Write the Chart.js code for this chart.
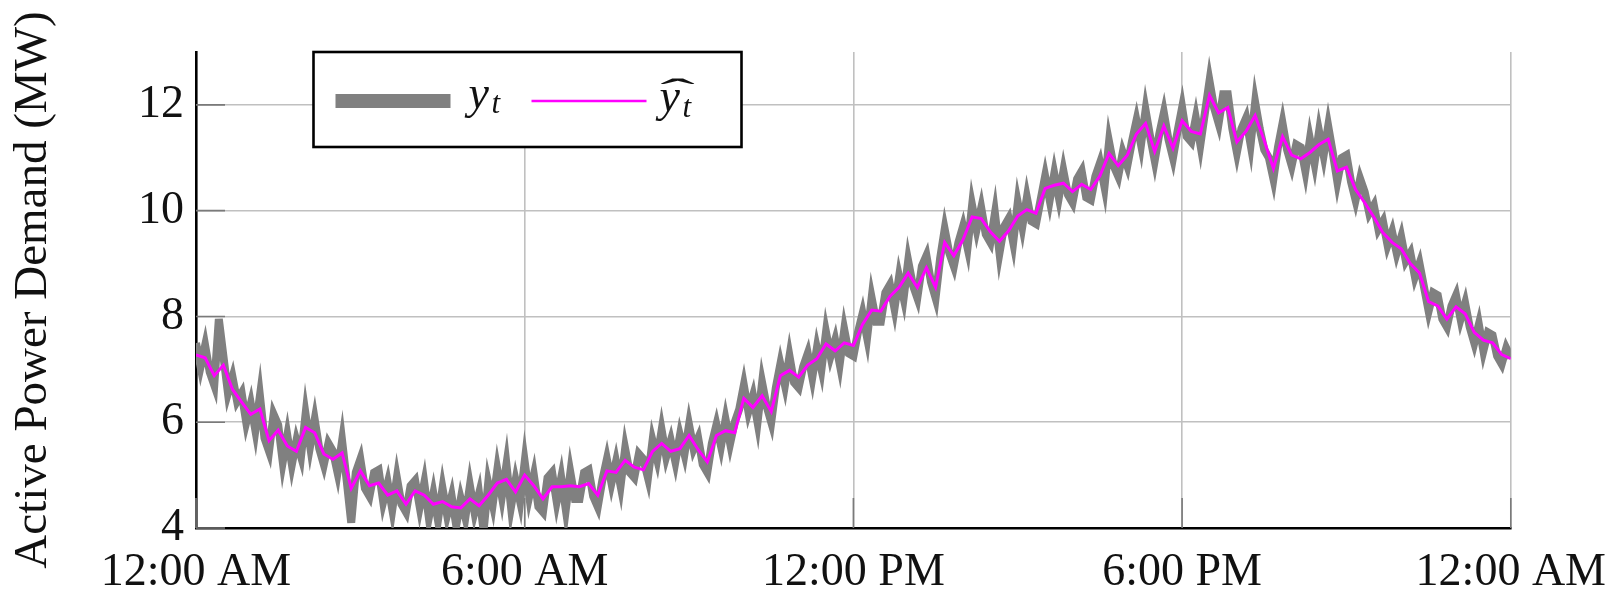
<!DOCTYPE html>
<html>
<head>
<meta charset="utf-8">
<title>Active Power Demand</title>
<script src="https://cdn.jsdelivr.net/npm/chart.js@4.4.1/dist/chart.umd.min.js"></script>
<style>
  html, body { margin: 0; padding: 0; background: #fff; }
  #wrap { width: 1623px; height: 593px; }
</style>
</head>
<body>
<div id="wrap"><canvas id="demand" width="1623" height="593"></canvas></div>
<script>
// sampling steps in minutes, 00:00 -> 24:00 (one row per hour below)
const measuredStep = 5;
const forecastStep = 10;

// measured demand y_t (MW), 5-minute readings
const measured = [
  7.50, 7.05, 7.45, 6.95, 6.70, 7.95, 7.25, 6.55, 6.85, 6.40, 6.55, 6.00,
  6.35, 5.85, 6.50, 5.70, 5.45, 6.15, 5.95, 5.25, 5.75, 5.20, 5.65, 5.35,
  6.15, 5.55, 6.05, 5.50, 5.20, 5.60, 5.45, 5.05, 5.65, 4.90, 4.10, 5.05,
  5.30, 4.75, 4.60, 5.05, 5.10, 4.50, 4.85, 4.35, 4.95, 4.45, 4.30, 4.80,
  4.90, 4.40, 4.85, 4.20, 4.65, 4.15, 4.75, 4.25, 4.60, 4.05, 4.55, 4.20,
  4.80, 4.30, 4.65, 3.95, 4.85, 4.45, 5.10, 4.60, 5.20, 4.40, 4.90, 4.50,
  5.25, 4.60, 5.00, 4.40, 4.30, 4.95, 5.05, 4.50, 4.95, 4.35, 5.05, 4.55,
  4.55, 5.05, 5.10, 4.60, 4.40, 4.90, 5.30, 4.85, 5.25, 4.80, 5.50, 5.05,
  4.95, 5.40, 5.30, 4.95, 5.65, 5.30, 5.85, 5.35, 5.65, 5.25, 5.75, 5.40,
  5.95, 5.50, 5.70, 5.20, 5.05, 5.60, 5.95, 5.55, 6.05, 5.60, 6.00, 6.25,
  6.70, 6.20, 6.50, 6.00, 6.75, 6.30, 6.00, 6.65, 7.10, 6.70, 7.25, 6.75,
  6.65, 7.05, 7.30, 6.85, 7.40, 7.00, 7.70, 7.25, 7.55, 7.10, 7.75, 7.30,
  7.25, 7.70, 8.05, 7.60, 8.35, 7.90, 7.90, 8.45, 8.60, 8.15, 8.75, 8.35,
  9.05, 8.60, 8.35, 8.95, 9.15, 8.65, 8.35, 9.10, 9.65, 9.20, 8.95, 9.40,
  9.70, 9.30, 10.10, 9.65, 10.05, 9.55, 9.40, 9.95, 9.20, 9.70, 9.85, 9.40,
  10.15, 9.70, 10.25, 9.80, 9.75, 10.20, 10.65, 10.20, 10.70, 10.25, 10.75, 10.30,
  10.15, 10.60, 10.75, 10.25, 10.20, 10.65, 10.90, 10.45, 11.30, 10.85, 10.65, 11.10,
  10.85, 11.30, 11.70, 11.25, 11.90, 11.40, 10.95, 11.45, 11.85, 11.35, 11.00, 11.50,
  11.95, 11.40, 11.30, 11.75, 11.25, 11.85, 12.45, 11.95, 11.65, 12.20, 12.20, 11.55,
  11.10, 11.55, 11.75, 11.25, 12.05, 11.55, 11.15, 11.00, 10.60, 11.20, 11.65, 11.15,
  10.85, 11.25, 11.20, 10.75, 11.35, 10.90, 11.50, 11.05, 11.60, 11.10, 10.55, 11.00,
  11.05, 10.55, 10.20, 10.60, 10.35, 9.95, 10.10, 9.65, 9.80, 9.35, 9.60, 9.20,
  9.50, 9.05, 9.20, 8.75, 9.00, 8.55, 8.10, 8.45, 8.40, 7.95, 7.80, 8.20,
  8.40, 7.95, 8.25, 7.80, 7.50, 7.85, 7.35, 7.70, 7.65, 7.25, 7.10, 7.40,
  7.22
];

// forecast ŷ_t (MW), 10-minute values
const forecast = [
  7.27, 7.22, 6.88, 7.08, 6.62, 6.38,
  6.15, 6.25, 5.65, 5.85, 5.55, 5.45,
  5.90, 5.80, 5.40, 5.30, 5.42, 4.75,
  5.08, 4.80, 4.85, 4.62, 4.70, 4.45,
  4.70, 4.62, 4.45, 4.50, 4.40, 4.38,
  4.55, 4.42, 4.62, 4.85, 4.92, 4.68,
  5.00, 4.80, 4.55, 4.78, 4.78, 4.80,
  4.78, 4.84, 4.62, 5.08, 5.05, 5.28,
  5.15, 5.10, 5.45, 5.60, 5.45, 5.50,
  5.75, 5.48, 5.25, 5.75, 5.84, 5.80,
  6.45, 6.28, 6.50, 6.20, 6.88, 6.98,
  6.85, 7.08, 7.20, 7.48, 7.35, 7.50,
  7.45, 7.85, 8.12, 8.10, 8.38, 8.55,
  8.82, 8.55, 8.92, 8.55, 9.40, 9.15,
  9.45, 9.88, 9.85, 9.60, 9.42, 9.62,
  9.90, 10.02, 9.95, 10.42, 10.48, 10.52,
  10.36, 10.50, 10.40, 10.66, 11.08, 10.85,
  11.05, 11.45, 11.65, 11.12, 11.60, 11.18,
  11.70, 11.50, 11.45, 12.18, 11.85, 11.95,
  11.30, 11.50, 11.80, 11.32, 10.80, 11.40,
  11.05, 10.98, 11.10, 11.25, 11.35, 10.75,
  10.82, 10.40, 10.15, 9.88, 9.58, 9.40,
  9.28, 9.00, 8.82, 8.28, 8.20, 7.95,
  8.18, 8.05, 7.70, 7.55, 7.50, 7.28,
  7.20
];

const hourTicks = [0, 6, 12, 18, 24];
const hourLabels = ['12:00 AM', '6:00 AM', '12:00 PM', '6:00 PM', '12:00 AM'];
const demandTicks = [4, 6, 8, 10, 12];

const GRAY = '#808080';
const MAGENTA = '#ff00ff';
const SERIF = "'Liberation Serif', 'DejaVu Serif', serif";

function toPoints(values, step) {
  return values.map((v, i) => ({ x: i * step / 60, y: v }));
}

// short dark tick marks drawn on the inside of the axes
const innerTicks = {
  id: 'innerTicks',
  beforeDatasetsDraw(chart) {
    const { ctx, chartArea, scales } = chart;
    ctx.save();
    ctx.strokeStyle = '#7a7a7a';
    ctx.lineWidth = 1.6;
    ctx.beginPath();
    demandTicks.forEach(v => {
      const y = scales.y.getPixelForValue(v);
      ctx.moveTo(chartArea.left, y);
      ctx.lineTo(chartArea.left + 29, y);
    });
    hourTicks.forEach(v => {
      const x = scales.x.getPixelForValue(v);
      ctx.moveTo(x, chartArea.bottom);
      ctx.lineTo(x, chartArea.bottom - 30);
    });
    ctx.stroke();
    ctx.restore();
  }
};

// boxed legend with math-style labels
const legendBox = {
  id: 'legendBox',
  afterDraw(chart) {
    const { ctx, chartArea } = chart;
    const x0 = chartArea.left + 117.5, y0 = chartArea.top, w = 428, h = 95;
    const cy = y0 + 49;
    ctx.save();
    ctx.fillStyle = '#fff';
    ctx.fillRect(x0, y0, w, h);
    ctx.lineWidth = 2.6;
    ctx.strokeStyle = '#000';
    ctx.strokeRect(x0, y0, w, h);

    ctx.fillStyle = GRAY;
    ctx.fillRect(x0 + 22, cy - 7, 115, 14);

    ctx.strokeStyle = MAGENTA;
    ctx.lineWidth = 2.5;
    ctx.beginPath();
    ctx.moveTo(x0 + 218, cy);
    ctx.lineTo(x0 + 333, cy);
    ctx.stroke();

    ctx.fillStyle = '#111';
    ctx.textAlign = 'left';
    ctx.textBaseline = 'alphabetic';
    ctx.font = 'italic 46px ' + SERIF;
    ctx.fillText('y', x0 + 155, cy + 7);
    ctx.fillText('y', x0 + 346, cy + 10);
    ctx.font = 'italic 31px ' + SERIF;
    ctx.fillText('t', x0 + 178, cy + 12);
    ctx.fillText('t', x0 + 369, cy + 16);

    // wide hat over the forecast symbol
    ctx.save();
    ctx.translate(x0 + 364, cy + 3);
    ctx.scale(2.6, 0.9);
    ctx.font = '40px ' + SERIF;
    ctx.textAlign = 'center';
    ctx.fillText('\u02C6', 0, 0);
    ctx.restore();

    ctx.restore();
  }
};

new Chart(document.getElementById('demand').getContext('2d'), {
  type: 'line',
  data: {
    datasets: [
      {
        label: 'y_t',
        data: toPoints(measured, measuredStep),
        borderColor: GRAY,
        borderWidth: 8,
        pointRadius: 0,
        tension: 0,
        clip: 0,
        order: 2
      },
      {
        label: 'ŷ_t',
        data: toPoints(forecast, forecastStep),
        borderColor: MAGENTA,
        borderWidth: 3,
        pointRadius: 0,
        tension: 0,
        clip: 0,
        order: 1
      }
    ]
  },
  options: {
    responsive: false,
    animation: false,
    devicePixelRatio: 1,
    layout: { padding: { left: 0, right: 103, top: 52, bottom: 0 } },
    plugins: {
      legend: { display: false },
      tooltip: { enabled: false }
    },
    scales: {
      x: {
        type: 'linear',
        min: 0,
        max: 24,
        afterBuildTicks: s => { s.ticks = hourTicks.map(v => ({ value: v })); },
        afterFit: s => { s.height = 65; },
        grid: { color: '#c0c0c0', lineWidth: 1.6, drawTicks: false },
        border: { display: true, color: '#000', width: 2.6 },
        ticks: {
          autoSkip: false,
          maxRotation: 0,
          padding: 17,
          color: '#111',
          font: { family: SERIF, size: 46 },
          callback: v => hourLabels[hourTicks.indexOf(v)]
        }
      },
      y: {
        min: 4,
        max: 13,
        afterBuildTicks: s => { s.ticks = demandTicks.map(v => ({ value: v })); },
        afterFit: s => { s.width = 196; },
        grid: { color: '#c0c0c0', lineWidth: 1.6, drawTicks: false },
        border: { display: true, color: '#000', width: 2.6 },
        ticks: {
          padding: 12,
          color: '#111',
          font: { family: SERIF, size: 46 }
        },
        title: {
          display: true,
          text: 'Active Power Demand (MW)',
          color: '#111',
          font: { family: SERIF, size: 47 },
          padding: { top: 5, bottom: 0 }
        }
      }
    }
  },
  plugins: [innerTicks, legendBox]
});
</script>
</body>
</html>
